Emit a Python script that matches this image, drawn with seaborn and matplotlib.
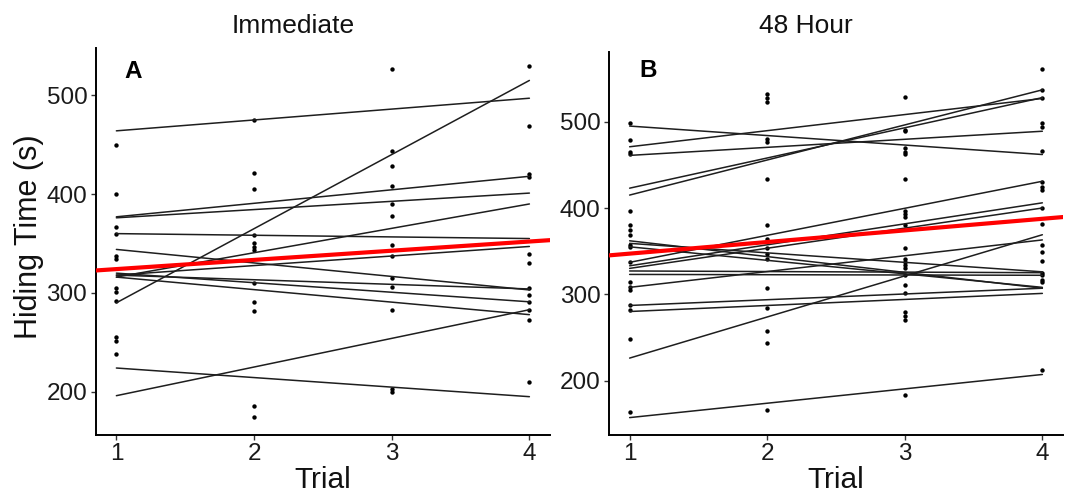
import pandas as pd
import numpy as np
import seaborn as sns
import matplotlib.pyplot as plt

# raw hiding times per trial (s)
imm_t1 = [450, 400, 367, 360, 337, 334, 305, 301, 292, 255, 251, 238]
imm_t2 = [475, 421, 405, 359, 351, 346, 343, 310, 291, 282, 186, 174]
imm_t3 = [527, 444, 428, 408, 390, 378, 348, 337, 315, 306, 283, 203, 200]
imm_t4 = [530, 469, 420, 417, 339, 330, 305, 298, 291, 283, 273, 210]

h48_t1 = [499, 479, 465, 463, 396, 380, 374, 369, 357, 355, 337, 314, 308,
          305, 287, 282, 248, 164]
h48_t2 = [532, 528, 523, 480, 476, 434, 380, 364, 354, 347, 341, 307, 284,
          257, 244, 166]
h48_t3 = [529, 491, 489, 469, 465, 463, 434, 397, 393, 390, 380, 354, 341,
          337, 334, 330, 322, 311, 301, 280, 275, 270, 183]
h48_t4 = [561, 537, 528, 498, 494, 466, 430, 424, 421, 400, 382, 357, 349,
          339, 325, 322, 316, 314, 212]

# per-individual fitted lines: value at trial 1 and at trial 4
imm_fit_start = [464, 290, 377, 376, 360, 316, 318, 344, 318, 320, 316, 224, 196]
imm_fit_end = [497, 515, 418, 401, 355, 390, 347, 303, 304, 291, 278, 195, 283]

h48_fit_start = [495, 471, 423, 415, 461, 337, 333, 330, 362, 359, 355, 327,
                 323, 308, 287, 280, 226, 157]
h48_fit_end = [462, 527, 528, 537, 489, 431, 406, 400, 307, 326, 308, 325,
               322, 363, 307, 301, 369, 207]

# overall fit (red): value at trial 1 and trial 4
imm_overall = [324.1, 352.0]
h48_overall = [347.1, 387.5]

trials = [1, 2, 3, 4]
titles = ['Immediate', '48 Hour']
panel_tags = ['A', 'B']


def points_df(cols):
    rows = []
    for t, vals in zip(trials, cols):
        for v in vals:
            rows.append((t, v))
    return pd.DataFrame(rows, columns=['Trial', 'Time'])


def fits_df(starts, ends):
    rows = []
    for i, (a, b) in enumerate(zip(starts, ends)):
        rows.append((i, 1, a))
        rows.append((i, 4, b))
    return pd.DataFrame(rows, columns=['id', 'Trial', 'Time'])


panels = [
    (points_df([imm_t1, imm_t2, imm_t3, imm_t4]),
     fits_df(imm_fit_start, imm_fit_end), imm_overall),
    (points_df([h48_t1, h48_t2, h48_t3, h48_t4]),
     fits_df(h48_fit_start, h48_fit_end), h48_overall),
]

sns.set_style('ticks')
plt.rcParams['font.family'] = ['Liberation Sans', 'DejaVu Sans']
plt.rcParams['text.color'] = '#111111'

fig = plt.figure(figsize=(10.72, 4.93), dpi=100)
boxes = [[0.0893, 0.1176, 0.4238, 0.785],
         [0.5681, 0.1176, 0.4235, 0.7775]]

for k, (pts, fits, overall) in enumerate(panels):
    ax = fig.add_axes(boxes[k])
    sns.scatterplot(data=pts, x='Trial', y='Time', color='black', s=10,
                    linewidth=0, ax=ax, zorder=2)
    sns.lineplot(data=fits, x='Trial', y='Time', units='id', estimator=None,
                 color='#1e1e1e', linewidth=1.1, ax=ax, zorder=3)
    ax.axline((1, overall[0]), (4, overall[1]), color='#ff0000',
              linewidth=3.0, zorder=4)
    ax.margins(x=0.05, y=0.05)
    ax.set_xticks(trials)
    ax.set_yticks([200, 300, 400, 500])
    ax.tick_params(labelsize=17.5, length=3.6, width=1.0, color='#333333',
                   labelcolor='#1a1a1a', pad=2.5)
    for s in ['left', 'bottom']:
        ax.spines[s].set_linewidth(1.4)
        ax.spines[s].set_color('black')
    sns.despine(ax=ax)
    ax.set_ylabel('')
    ax.set_xlabel('Trial', fontsize=21.5, color='#111111')
    ax.xaxis.label.set_va('baseline')
    ax.xaxis.set_label_coords(0.5, -0.137)

fig.text(293.5 / 1072, 0.9325, titles[0], ha='center', va='baseline',
         fontsize=19)
fig.text(806 / 1072, 0.9325, titles[1], ha='center', va='baseline',
         fontsize=19)
fig.text(133 / 1072, 0.8412, panel_tags[0], ha='center', va='baseline',
         fontsize=17.5, fontweight='bold', color='black')
fig.text(648 / 1072, 0.8432, panel_tags[1], ha='center', va='baseline',
         fontsize=17.5, fontweight='bold', color='black')
fig.text(29 / 1072, 0.52, 'Hiding Time (s)', rotation=90, ha='center',
         va='center', fontsize=22)

plt.savefig('out.png', dpi=100)
